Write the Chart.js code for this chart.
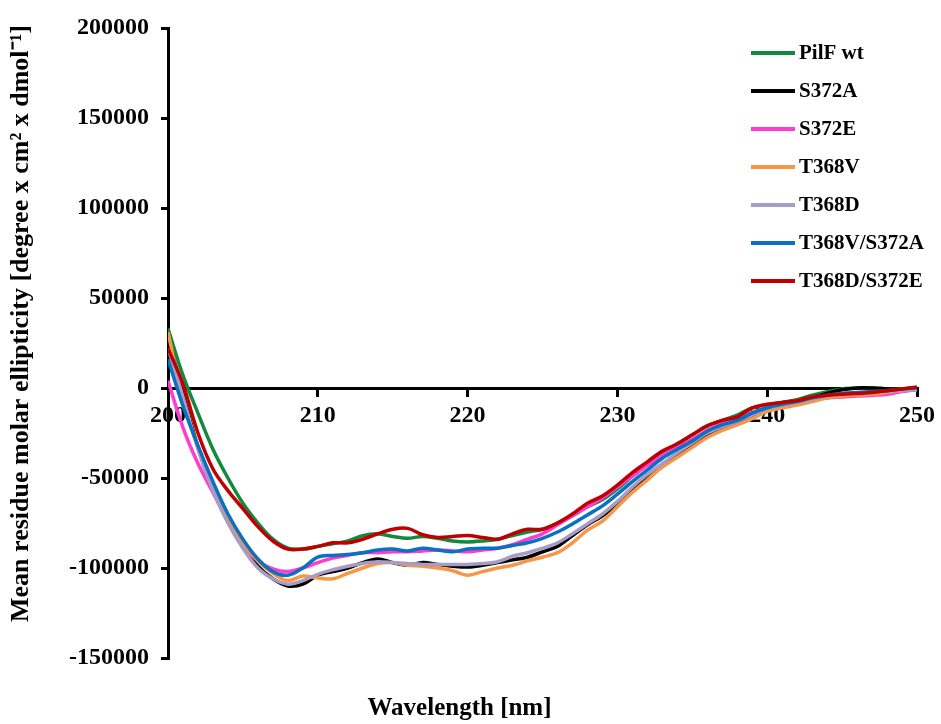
<!DOCTYPE html>
<html>
<head>
<meta charset="utf-8">
<script src="https://cdn.jsdelivr.net/npm/chart.js@4/dist/chart.umd.min.js"></script>
<style>
html,body{margin:0;padding:0;background:#fff;}
#wrap{width:941px;height:724px;position:relative;}
</style>
</head>
<body>
<div id="wrap"><canvas id="c" width="941" height="724"></canvas></div>
<script>
// ---- data ----
const wavelengths = [200,201,202,203,204,205,206,207,208,209,210,211,212,213,214,215,216,217,218,219,220,221,222,223,224,225,226,227,228,229,230,231,232,233,234,235,236,237,238,239,240,241,242,243,244,245,246,247,248,249,250];

const pilfWt = [33000,7000,-14000,-34000,-50000,-64000,-75000,-84000,-89000,-89500,-88000,-86500,-85000,-82000,-81000,-82500,-83500,-82500,-83500,-85000,-85500,-85000,-84000,-82000,-80000,-78500,-75000,-71000,-66000,-62000,-56000,-49000,-42000,-36000,-31000,-26000,-21000,-18000,-15000,-11000,-9500,-8000,-6500,-4000,-2000,-500,0,0,-500,-1000,0];
const s372a = [28000,-3000,-33000,-56000,-74000,-88000,-99000,-106000,-110000,-109000,-104000,-102000,-100000,-97000,-95000,-97000,-98500,-97000,-98000,-99000,-99500,-98500,-97000,-95500,-94000,-91000,-88000,-82000,-76000,-71000,-64000,-56000,-49000,-42500,-37000,-31500,-26000,-22000,-19000,-15500,-12000,-10000,-8500,-5500,-3000,-1000,0,0,-500,-1000,-500];
const s372e = [4000,-22000,-42000,-58000,-74000,-87000,-96000,-100500,-102000,-100000,-97000,-94500,-93000,-91500,-91500,-91000,-91000,-90500,-90000,-90500,-91000,-90000,-89000,-87000,-84000,-81000,-76000,-71000,-66000,-61000,-55000,-49000,-43000,-37500,-33000,-28500,-23500,-19500,-17000,-13500,-11000,-9500,-8000,-6500,-5500,-5000,-4500,-4000,-3500,-2000,-1000];
const t368v = [31000,-7000,-33000,-54000,-72000,-86000,-96000,-103000,-107000,-104500,-105500,-106000,-103000,-100000,-97500,-97000,-98500,-99000,-100000,-101500,-104000,-102000,-100000,-98500,-96000,-94000,-91500,-86000,-79000,-74000,-66000,-58000,-51000,-44000,-38500,-33000,-27500,-23500,-20500,-17000,-13000,-11000,-9500,-7500,-5500,-4500,-4000,-3500,-2500,-1500,-500];
const t368d = [22000,-5000,-34000,-57000,-75000,-89000,-100000,-106000,-109000,-107000,-103500,-101000,-99000,-97500,-96500,-97000,-97500,-98000,-98000,-98000,-98000,-97500,-96500,-93500,-91500,-89000,-86000,-81000,-75500,-70000,-63000,-55000,-48000,-42000,-36000,-30500,-25000,-21500,-18500,-15000,-11500,-9500,-8000,-6000,-4500,-3500,-3000,-2500,-2000,-1500,-1000];
const t368vS372a = [16000,-10000,-32000,-52000,-70000,-84000,-95000,-102000,-104000,-100000,-94000,-93000,-92500,-91500,-90000,-89500,-90500,-89000,-90000,-91000,-89500,-89000,-89000,-87500,-86000,-83500,-80000,-75500,-70500,-65500,-59000,-52000,-45500,-39000,-34000,-29500,-24000,-20500,-18000,-14000,-11000,-9000,-7500,-5500,-4000,-3000,-2500,-2000,-1500,-500,0];
const t368dS372e = [22000,2000,-25000,-45000,-57000,-67000,-77000,-85000,-89500,-89500,-88000,-86000,-86000,-84000,-81000,-78500,-78000,-81500,-83000,-82500,-82000,-83000,-84000,-81000,-78500,-78500,-75000,-70000,-64000,-60000,-54000,-47000,-41000,-35000,-31000,-26000,-21000,-18000,-16000,-11000,-9000,-8000,-7000,-5000,-4000,-3500,-3000,-2500,-1500,-500,500];

const seriesNames = ['PilF wt','S372A','S372E','T368V','T368D','T368V/S372A','T368D/S372E'];
const seriesValues = [pilfWt, s372a, s372e, t368v, t368d, t368vS372a, t368dS372e];
const seriesColors = ['#13893e','#000000','#ff3ccf','#f79646','#a99cc4','#0a70c0','#c00000'];

const xTicks = [200,210,220,230,240,250];
const yTicks = [-150000,-100000,-50000,0,50000,100000,150000,200000];

const xTitle = 'Wavelength [nm]';
const yTitle = '\u00A0\u00A0\u00A0\u00A0\u00A0\u00A0Mean residue molar ellipticity [degree x cm\u00B2 x dmol\u207B\u00B9]';

// ---- chart ----
const FONT = '"Liberation Serif", "Times New Roman", serif';

const datasets = seriesNames.map((name, i) => ({
  label: name,
  data: wavelengths.map((w, k) => ({x: w, y: seriesValues[i][k]})),
  borderColor: seriesColors[i],
  backgroundColor: seriesColors[i],
  borderWidth: 3.5,
  pointRadius: 0,
  tension: 0.35,
  fill: false,
  order: seriesNames.length - i
}));

const legendPlugin = {
  id: 'insideLegend',
  afterDraw(chart) {
    const ctx = chart.ctx;
    const ca = chart.chartArea;
    const x0 = ca.right - 166;
    const y0 = ca.top + 25;
    const step = 38;
    ctx.save();
    ctx.font = 'bold 21px ' + FONT;
    ctx.textBaseline = 'middle';
    ctx.textAlign = 'left';
    chart.data.datasets.forEach((ds, i) => {
      const y = y0 + i * step;
      ctx.strokeStyle = ds.borderColor;
      ctx.lineWidth = 4;
      ctx.beginPath();
      ctx.moveTo(x0, y);
      ctx.lineTo(x0 + 44, y);
      ctx.stroke();
      ctx.fillStyle = '#000';
      ctx.fillText(ds.label, x0 + 48, y + 1);
    });
    ctx.restore();
  }
};

new Chart(document.getElementById('c'), {
  type: 'line',
  data: { datasets },
  options: {
    responsive: false,
    animation: false,
    layout: { padding: { top: 28, right: 22, left: 0, bottom: 0 } },
    plugins: {
      legend: { display: false },
      tooltip: { enabled: false },
      title: {
        display: true,
        position: 'bottom',
        text: xTitle,
        color: '#000',
        font: { family: FONT, size: 25, weight: 'bold' },
        padding: { top: 36, bottom: 0 }
      }
    },
    scales: {
      x: {
        type: 'linear',
        position: { y: 0 },
        min: 200,
        max: 250,
        afterBuildTicks(scale) { scale.ticks = xTicks.map(v => ({ value: v })); },
        ticks: {
          color: '#000',
          font: { family: FONT, size: 24, weight: 'bold' },
          padding: 6,
          maxRotation: 0,
          autoSkip: false,
          callback: v => String(v)
        },
        border: { display: true, color: '#000', width: 3 },
        grid: { drawOnChartArea: false, drawTicks: true, tickLength: 7, color: '#000', lineWidth: 3 }
      },
      y: {
        type: 'linear',
        min: -150000,
        max: 200000,
        afterBuildTicks(scale) { scale.ticks = yTicks.map(v => ({ value: v })); },
        afterFit(scale) { scale.width = 168; },
        ticks: {
          color: '#000',
          font: { family: FONT, size: 24, weight: 'bold' },
          padding: 12,
          autoSkip: false,
          callback: v => String(v)
        },
        title: {
          display: true,
          text: yTitle,
          color: '#000',
          font: { family: FONT, size: 26, weight: 'bold' },
          padding: { top: 6, bottom: 0 }
        },
        border: { display: true, color: '#000', width: 3 },
        grid: { drawOnChartArea: false, drawTicks: true, tickLength: 7, color: '#000', lineWidth: 3 }
      }
    }
  },
  plugins: [legendPlugin]
});
</script>
</body>
</html>
